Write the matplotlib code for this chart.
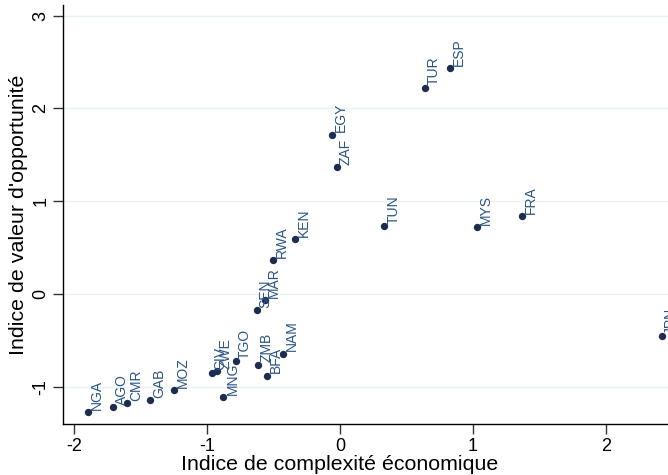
import matplotlib
matplotlib.use('Agg')
import matplotlib.pyplot as plt

plt.rcParams['font.family'] = ['Liberation Sans', 'DejaVu Sans']

# pays et valeurs
pays = ['NGA', 'AGO', 'CMR', 'GAB', 'MOZ', 'CIV', 'ZWE', 'MNG', 'TGO', 'ZMB',
        'BFA', 'NAM', 'SEN', 'MAR', 'RWA', 'KEN', 'EGY', 'ZAF', 'TUR', 'ESP',
        'TUN', 'MYS', 'FRA', 'JPN']
complexite = [-1.897, -1.709, -1.603, -1.430, -1.250, -0.966, -0.928, -0.878,
              -0.785, -0.620, -0.547, -0.431, -0.627, -0.565, -0.502, -0.339,
              -0.062, -0.025, 0.640, 0.828, 0.333, 1.029, 1.372, 2.421]
opportunite = [-1.273, -1.219, -1.176, -1.144, -1.035, -0.849, -0.830, -1.111,
               -0.722, -0.762, -0.881, -0.643, -0.171, -0.070, 0.366, 0.594,
               1.718, 1.368, 2.226, 2.438, 0.730, 0.723, 0.835, -0.452]

xticks = [-2, -1, 0, 1, 2]
yticks = [-1, 0, 1, 2, 3]

couleur_pt = '#1c2d50'
couleur_lab = '#2a5485'

fig = plt.figure(figsize=(6.68, 4.75), dpi=100)
ax = fig.add_axes([63.3 / 668, 1 - 424 / 475, 1 - 63.3 / 668, (424 - 5) / 475])

ax.scatter(complexite, opportunite, s=28, color=couleur_pt, zorder=3, linewidths=0)

# étiquettes verticales à droite de chaque point
for nom, x, y in zip(pays, complexite, opportunite):
    ax.annotate(nom, (x, y), xytext=(6.5, 1.6), textcoords='offset points',
                rotation=90, rotation_mode='anchor', ha='left', va='center',
                fontsize=10, color=couleur_lab, zorder=4)

ax.set_xlim(-2.083, 2.469)
ax.set_ylim(-1.403, 3.116)
ax.set_xticks(xticks)
ax.set_yticks(yticks)
ax.set_xticklabels([str(t) for t in xticks], fontsize=13)
ax.set_yticklabels([str(t) for t in yticks], fontsize=13, rotation=90, va='center')
ax.tick_params(length=7, width=1, color='#333333', pad=3)

ax.grid(axis='y', color='#eaf2f3', linewidth=1)
ax.set_axisbelow(True)
for s in ['top', 'right']:
    ax.spines[s].set_visible(False)
for s in ['left', 'bottom']:
    ax.spines[s].set_linewidth(1)

ax.set_xlabel('Indice de complexité économique', fontsize=15.4)
ax.set_ylabel("Indice de valeur d'opportunité", fontsize=15.4, labelpad=3)
# titre de l'axe x centré vers x = 340 px comme dans l'original
ax.xaxis.set_label_coords((340 - 63.3) / (668 - 63.3), -0.075)

fig.savefig('out.png', dpi=100)
